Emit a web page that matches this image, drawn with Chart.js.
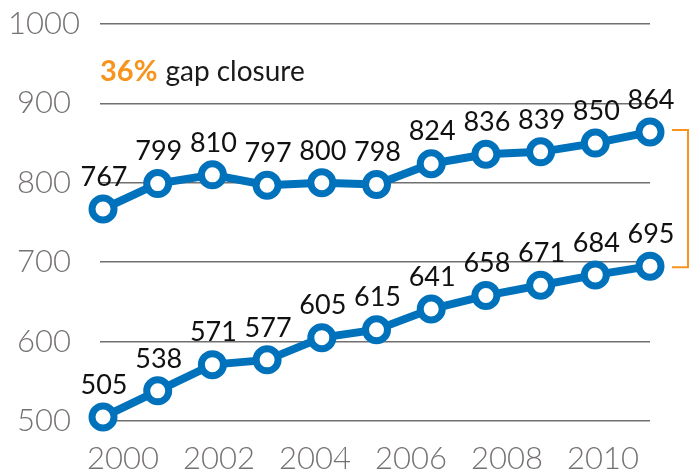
<!DOCTYPE html>
<html>
<head>
<meta charset="utf-8">
<script src="https://cdn.jsdelivr.net/npm/chart.js@4"></script>
<style>
    html, body { margin: 0; padding: 0; background: #fff; }
</style>
</head>
<body>
<canvas id="grafico" width="690" height="476"></canvas>
<script>
// Datos del gráfico
var years = [2000, 2001, 2002, 2003, 2004, 2005, 2006, 2007, 2008, 2009, 2010];
var upper = [767, 799, 810, 797, 800, 798, 824, 836, 839, 850, 864];
var lower = [505, 538, 571, 577, 605, 615, 641, 658, 671, 684, 695];
var yearTicks = [2000, 2002, 2004, 2006, 2008, 2010];
var yTicks = [500, 600, 700, 800, 900, 1000];
var gapPercent = '36%';
var gapText = 'gap closure';

var azul = '#0072bc';
var naranja = '#f7941d';

function puntos(valores) {
    return valores.map(function (v, i) { return { x: years[i], y: v }; });
}

// Etiquetas de valores encima de cada punto
var etiquetasPlugin = {
    id: 'etiquetas',
    afterDatasetsDraw: function (chart) {
        var ctx = chart.ctx;
        ctx.save();
        ctx.font = '27px Lato';
        ctx.fillStyle = '#111';
        ctx.textAlign = 'center';
        ctx.textBaseline = 'middle';
        chart.data.datasets.forEach(function (ds, i) {
            chart.getDatasetMeta(i).data.forEach(function (el, j) {
                ctx.fillText(ds.data[j].y, el.x + 1, el.y - 32);
            });
        });
        ctx.restore();
    }
};

// Nota "36% gap closure" y corchete naranja
var notaPlugin = {
    id: 'nota',
    afterDraw: function (chart) {
        var ctx = chart.ctx;
        var area = chart.chartArea;
        var y = chart.scales.y;
        ctx.save();
        ctx.textBaseline = 'alphabetic';
        ctx.textAlign = 'left';
        ctx.font = 'bold 29px Lato';
        ctx.fillStyle = naranja;
        ctx.fillText(gapPercent, area.left, area.top + 57);
        var w = ctx.measureText(gapPercent).width;
        ctx.font = '28px Lato';
        ctx.fillStyle = '#1a1a1a';
        ctx.fillText(gapText, area.left + w + 8, area.top + 57);

        var x = area.right + 38;
        var y1 = y.getPixelForValue(upper[upper.length - 1]) - 2;
        var y2 = y.getPixelForValue(lower[lower.length - 1]) + 1;
        ctx.strokeStyle = naranja;
        ctx.lineWidth = 2;
        ctx.beginPath();
        ctx.moveTo(x - 16, y1);
        ctx.lineTo(x, y1);
        ctx.lineTo(x, y2);
        ctx.lineTo(x - 16, y2);
        ctx.stroke();
        ctx.restore();
    }
};

function serie(valores) {
    return {
        data: puntos(valores),
        borderColor: azul,
        borderWidth: 8,
        pointRadius: 11,
        pointBorderWidth: 7,
        pointBackgroundColor: '#fff',
        pointBorderColor: azul,
        tension: 0,
        clip: false
    };
}

var ctx = document.getElementById('grafico').getContext('2d');
new Chart(ctx, {
    type: 'line',
    data: { datasets: [serie(upper), serie(lower)] },
    options: {
        responsive: false,
        animation: false,
        devicePixelRatio: 1,
        layout: { padding: { top: 24, right: 40, bottom: 0, left: 0 } },
        plugins: { legend: { display: false }, tooltip: { enabled: false } },
        scales: {
            x: {
                type: 'linear',
                display: false,
                min: 1999.945,
                max: 2010
            },
            xLabels: {
                type: 'linear',
                position: 'bottom',
                min: 1999.52,
                max: 2010.98,
                afterBuildTicks: function (scale) {
                    scale.ticks = yearTicks.map(function (v) { return { value: v }; });
                },
                afterFit: function (scale) {
                    scale.height = 55;
                    scale.paddingLeft = 0;
                    scale.paddingRight = 0;
                },
                grid: { display: false, drawTicks: false },
                border: { display: false },
                ticks: {
                    autoSkip: false,
                    maxRotation: 0,
                    padding: 19,
                    color: '#767171',
                    font: { family: 'Lato', size: 31, weight: 300 },
                    callback: function (v) { return String(v); }
                }
            },
            y: {
                type: 'linear',
                min: 500,
                max: 1000,
                afterBuildTicks: function (scale) {
                    scale.ticks = yTicks.map(function (v) { return { value: v }; });
                },
                afterFit: function (scale) {
                    scale.width = 100;
                    scale.paddingTop = 0;
                    scale.paddingBottom = 0;
                },
                grid: { color: '#707070', lineWidth: 1.5, drawTicks: false },
                border: { display: false },
                ticks: {
                    padding: 20,
                    crossAlign: 'center',
                    color: '#767171',
                    font: { family: 'Lato', size: 31, weight: 300 },
                    callback: function (v) { return String(v); }
                }
            }
        }
    },
    plugins: [etiquetasPlugin, notaPlugin]
});
</script>
</body>
</html>
